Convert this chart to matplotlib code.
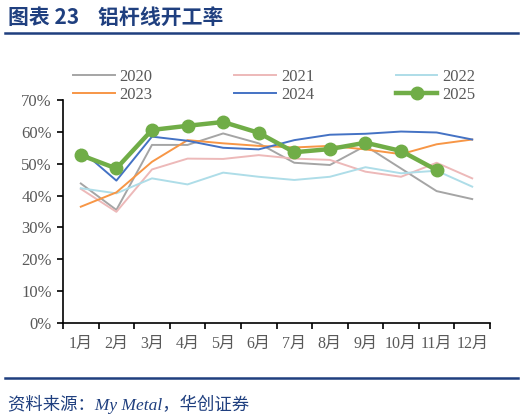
import matplotlib
matplotlib.use("Agg")
import matplotlib.pyplot as plt
from matplotlib.lines import Line2D

# ---- data ----
months = ["1月", "2月", "3月", "4月", "5月", "6月", "7月", "8月", "9月", "10月", "11月", "12月"]
years = ["2020", "2021", "2022", "2023", "2024", "2025"]

y2020 = [43.8, 35.5, 55.9, 55.9, 59.5, 56.4, 50.3, 49.6, 55.6, 48.5, 41.4, 38.9]
y2021 = [42.1, 34.9, 48.2, 51.6, 51.5, 52.7, 51.6, 51.2, 47.5, 45.9, 50.3, 45.4]
y2022 = [42.3, 40.7, 45.4, 43.5, 47.2, 45.9, 44.9, 45.9, 48.9, 47.0, 47.8, 42.8]
y2023 = [36.5, 41.0, 50.6, 57.4, 56.4, 55.6, 55.1, 55.6, 54.5, 53.0, 56.1, 57.6]
y2024 = [54.3, 44.7, 58.5, 57.2, 55.0, 54.5, 57.4, 59.1, 59.4, 60.1, 59.8, 57.6]
y2025 = [52.7, 48.5, 60.6, 61.9, 63.1, 59.7, 53.6, 54.6, 56.6, 54.0, 48.0]

colors = {"2020": "#A5A5A5", "2021": "#EDB9B9", "2022": "#AEDDE8",
          "2023": "#F79646", "2024": "#4472C4", "2025": "#70AD47"}

SERIF = ["Liberation Serif", "Noto Sans CJK SC"]
NAVY = "#1F3F7F"
GREY_TXT = "#595959"

fig = plt.figure(figsize=(5.24, 4.19), dpi=100)
ax = fig.add_axes([63 / 524, 1 - 323 / 419, (490 - 63) / 524, (323 - 100) / 419])

x = list(range(12))
series = {"2020": y2020, "2021": y2021, "2022": y2022, "2023": y2023, "2024": y2024}
for name, vals in series.items():
    ax.plot(x[:len(vals)], vals, color=colors[name], lw=1.4, label=name, zorder=2)
ax.plot(x[:len(y2025)], y2025, color=colors["2025"], lw=3.2, marker="o",
        markersize=9, label="2025", zorder=3)

ax.set_xlim(-0.5, 11.5)
ax.set_ylim(0, 70)
ax.set_yticks(range(0, 71, 10))
ax.set_yticklabels([f"{v}%" for v in range(0, 71, 10)], family=SERIF,
                   fontsize=12, color=GREY_TXT)

# ticks at month boundaries, labels centred in between
ax.set_xticks([i - 0.5 for i in range(13)])
ax.set_xticklabels([])
ax.set_xticks(x, minor=True)
ax.set_xticklabels(months, minor=True, family=SERIF, fontsize=11.5, color=GREY_TXT)
ax.tick_params(axis="x", which="minor", length=0, pad=9)
ax.tick_params(axis="x", which="major", length=4, width=1.2, direction="out")
ax.tick_params(axis="y", length=4, width=1.2, direction="out", pad=4)

for s in ["top", "right"]:
    ax.spines[s].set_visible(False)
for s in ["left", "bottom"]:
    ax.spines[s].set_linewidth(1.2)
    ax.spines[s].set_color("black")

handles, labels = ax.get_legend_handles_labels()
# legend row-major order: 2020 2021 2022 / 2023 2024 2025
order = [0, 3, 1, 4, 2, 5]
fig.legend([handles[i] for i in order], [labels[i] for i in order], ncol=3,
           loc="upper left", bbox_to_anchor=(58 / 524, 1 - 54 / 419),
           frameon=False, prop={"family": SERIF, "size": 12},
           labelcolor=GREY_TXT, handlelength=2.5, handletextpad=0.3,
           columnspacing=4.9, labelspacing=0.1)

# header and footer
fig.text(8 / 524, 1 - 17 / 419, "图表 23    铝杆线开工率", family=["Noto Sans CJK SC"],
         fontsize=15, fontweight="bold", color=NAVY, va="center", ha="left")
fig.add_artist(Line2D([5 / 524, 518 / 524], [1 - 33 / 419, 1 - 33 / 419],
                      color=NAVY, lw=1.8))
fig.add_artist(Line2D([5 / 524, 518 / 524], [1 - 378 / 419, 1 - 378 / 419],
                      color=NAVY, lw=1.8))
fig.text(8 / 524, 1 - 404 / 419, "资料来源：My Metal，华创证券", family=SERIF,
         style="italic", fontsize=12.5, color=NAVY, va="center", ha="left")

fig.savefig("out.png", dpi=100)
